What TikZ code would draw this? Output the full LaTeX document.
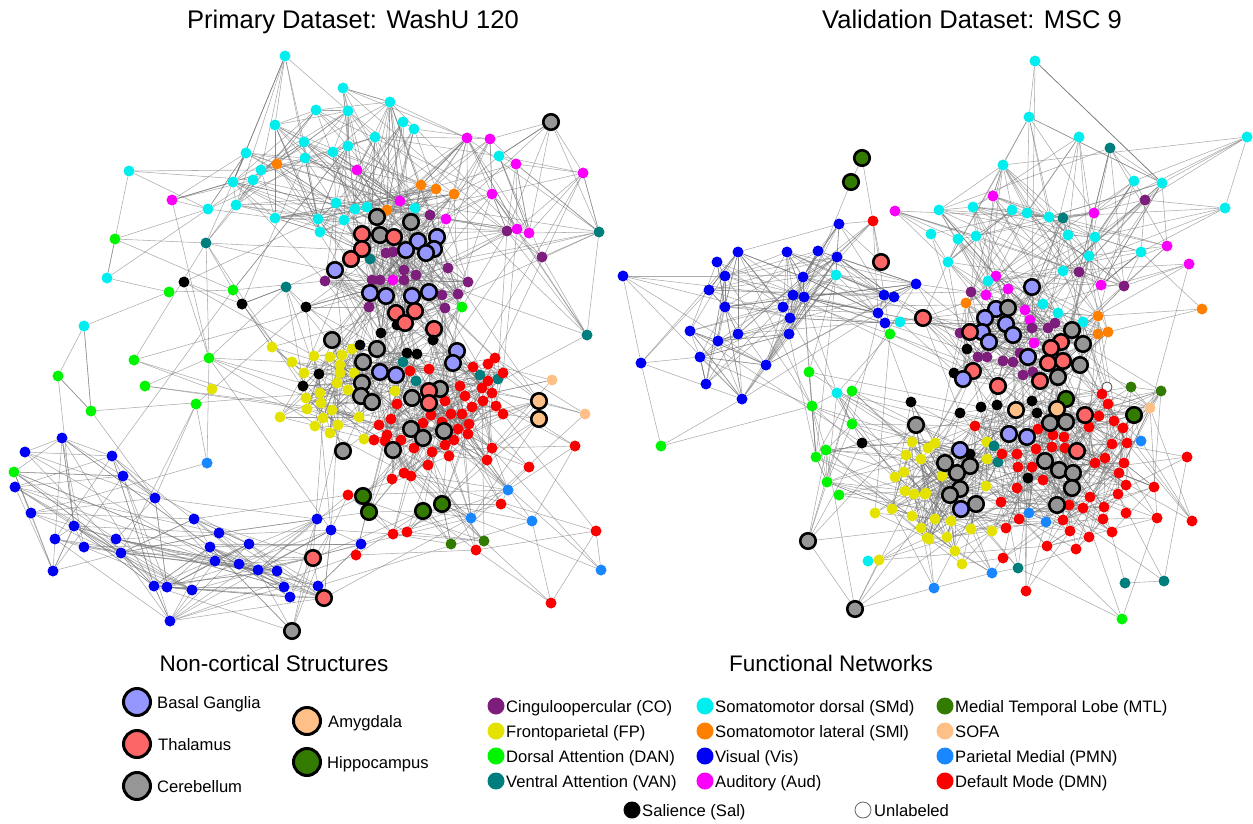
\documentclass[tikz,border=0pt]{standalone}
\usepackage{fontspec}
\setmainfont{Liberation Sans}
\pgfdeclarelayer{edges}
\pgfsetlayers{edges,main}
\definecolor{cCO}{RGB}{125,30,125}
\definecolor{cFP}{RGB}{228,226,0}
\definecolor{cDAN}{RGB}{0,245,0}
\definecolor{cVAN}{RGB}{0,125,125}
\definecolor{cSMd}{RGB}{0,238,238}
\definecolor{cSMl}{RGB}{255,128,0}
\definecolor{cVis}{RGB}{0,0,245}
\definecolor{cAud}{RGB}{250,0,250}
\definecolor{cMTL}{RGB}{50,122,0}
\definecolor{cSOFA}{RGB}{255,192,135}
\definecolor{cPMN}{RGB}{25,135,255}
\definecolor{cDMN}{RGB}{250,0,0}
\definecolor{cBG}{RGB}{150,150,255}
\definecolor{cTha}{RGB}{252,102,102}
\definecolor{cCer}{RGB}{150,150,150}
\definecolor{cAmy}{RGB}{255,192,135}
\definecolor{cHip}{RGB}{50,122,0}
\tikzset{
  ndot/.style={circle,inner sep=0pt,minimum size=11pt,draw=none},
  nbig/.style={circle,inner sep=0pt,minimum size=15.5pt,draw=black,line width=2.6pt},
  nco/.style={ndot,fill=cCO}, nfp/.style={ndot,fill=cFP}, ndan/.style={ndot,fill=cDAN},
  nvan/.style={ndot,fill=cVAN}, nsmd/.style={ndot,fill=cSMd}, nsml/.style={ndot,fill=cSMl},
  nvis/.style={ndot,fill=cVis}, naud/.style={ndot,fill=cAud}, nmtl/.style={ndot,fill=cMTL},
  nsofa/.style={ndot,fill=cSOFA}, npmn/.style={ndot,fill=cPMN}, ndmn/.style={ndot,fill=cDMN},
  nsal/.style={ndot,fill=black}, nunl/.style={ndot,fill=white,draw=black!70,line width=0.8pt,minimum size=10pt},
  nbg/.style={nbig,fill=cBG}, ntha/.style={nbig,fill=cTha}, ncer/.style={nbig,fill=cCer},
  namy/.style={nbig,fill=cAmy}, nhip/.style={nbig,fill=cHip},
  lnk/.style={draw=black!55,line width=0.55pt,opacity=0.6},
  lgbig/.style={circle,inner sep=0pt,minimum size=27pt,draw=black,line width=3pt},
  lgdot/.style={circle,inner sep=0pt,minimum size=17pt,draw=none},
  lgtxt/.style={anchor=base west,font=\fontsize{16.6}{20}\selectfont,inner sep=0pt},
  ttl/.style={anchor=base,font=\fontsize{25.5}{28}\selectfont,inner sep=0pt},
  hdr/.style={anchor=base,font=\fontsize{22.5}{26}\selectfont,inner sep=0pt}
}
\newcommand\mkgrp[2]{%
  \foreach \s/\x/\y [count=\i] in {#2}{%
    \node[\s] (#1\i) at (\x,\y) {};%
    \expandafter\xdef\csname X#1\i\endcsname{\x}%
    \expandafter\xdef\csname Y#1\i\endcsname{\y}%
    \xdef\lastn{\i}}%
  \expandafter\xdef\csname num#1\endcsname{\lastn}}
% group1, group2, attempts, range (longer links are rarer)
\newcommand\edg[4]{%
  \def\gA{#1}\def\gB{#2}%
  \foreach \k in {1,...,#3}{%
    \pgfmathtruncatemacro\ea{random(1,\csname num#1\endcsname)}%
    \pgfmathtruncatemacro\eb{random(1,\csname num#2\endcsname)}%
    \pgfmathsetmacro\dd{veclen(\csname X#1\ea\endcsname-\csname X#2\eb\endcsname,\csname Y#1\ea\endcsname-\csname Y#2\eb\endcsname)}%
    \pgfmathsetmacro\thr{#4*rnd}%
    \ifdim\dd pt<\thr pt\relax
      \ifdim\dd pt>1pt\relax\draw[lnk] (#1\ea) -- (#2\eb);\fi
    \fi}}
\begin{document}
\begin{tikzpicture}[x=1pt,y=-1pt]
\useasboundingbox (0,0) rectangle (1253,824);
\pgfmathsetseed{1234}
% ---------------- LEFT PANEL ----------------
\mkgrp{D}{ndan/115/239, nvan/206/243, nsmd/107/278, nsal/184/282, ndan/169/292, ndan/233/290, nvan/286/287, nsal/242/304, nsmd/84/326, ndan/134/360, ndan/209/358, ndan/58/376, ndan/145/386, ndan/196/404, ndan/91/411, npmn/207/463}
\mkgrp{A}{nsmd/285/56, nsmd/343/88, nsmd/316/110, nsmd/348/111, nsmd/390/102, nsmd/403/122, nsmd/414/129, nsmd/375/137, nsmd/275/125, nsmd/304/142, nsmd/333/152, nsmd/348/146, nsmd/305/158, nsmd/246/153, nsml/277/164, nsmd/261/170, nsmd/253/180, nsmd/233/182, nsmd/129/171, naud/172/200, nsmd/208/209, nsmd/236/205, nsmd/275/218, nsmd/318/219, nsmd/320/232, naud/357/170, nsmd/336/203, nsmd/355/209, nsmd/367/207, nsmd/344/220, nsml/421/185, nsml/436/189, nsml/454/194, nsml/387/210, naud/400/201, nsmd/415/208}
\mkgrp{B}{naud/467/138, naud/490/139, nsmd/499/156, naud/516/164, naud/583/173, naud/492/194, naud/446/219, nco/507/231, naud/517/229, naud/529/233, nco/542/257, nvan/599/232, nvan/587/335, ncer/551/122}
\mkgrp{G}{nvis/62/438, nvis/25/452, nvis/112/456, nvis/123/476, ndan/14/472, nvis/15/487, nvis/155/498, nvis/31/513, nvis/194/519, nvis/74/526, nvis/55/539, nvis/116/539, nvis/84/547, nvis/121/553, nvis/219/533, nvis/210/547, nvis/249/544, nvis/215/561, nvis/239/564, nvis/258/570, nvis/277/571, nvis/53/571, nvis/317/519, nvis/154/586, nvis/167/587, nvis/192/590, nvis/284/587, nvis/290/597, nvis/318/586, nvis/170/621, nvis/331/530, nvis/361/544, ntha/313/558, ntha/324/598, ncer/292/631}
\mkgrp{H}{ndmn/348/495, ndmn/356/555, ndmn/393/534, ndmn/407/532, nmtl/451/544, nmtl/484/541, ndmn/476/550, npmn/508/490, ndmn/501/504, npmn/471/518, npmn/532/521, ndmn/596/531, npmn/601/570, ndmn/551/603, nhip/363/496, nhip/369/512, nhip/423/511, nhip/442/504}
\mkgrp{C}{nco/430/215, nco/386/253, nco/393/252, nvan/370/259, nco/325/281, nco/404/270, nco/416/275, nco/404/280, nco/372/280, nco/380/280, naud/393/280, nco/448/268, nco/468/282, nco/442/295, nco/458/294, nco/445/308, nco/369/307, ndan/462/307, nsal/381/333, nsal/397/325, nsal/306/307, ncer/377/217, ncer/411/222, ncer/380/235, ntha/362/234, ntha/394/237, ntha/362/249, ntha/351/259, nbg/418/241, nbg/437/237, nbg/434/249, nbg/426/253, nbg/406/250, nbg/335/270, nbg/370/293, nbg/386/296, nbg/412/296, nbg/429/292, ntha/396/313, ntha/415/311, ntha/405/323, ntha/434/329}
\mkgrp{E}{nfp/272/347, nfp/292/362, nfp/314/356, nfp/330/357, nfp/342/355, nfp/352/349, nfp/340/365, nfp/340/373, nfp/354/373, nfp/304/373, nsal/319/374, nsal/303/386, nfp/337/383, nfp/348/390, nfp/320/393, nfp/306/398, nfp/321/403, nfp/307/409, nfp/332/410, nfp/323/418, nfp/338/425, nfp/315/426, nfp/330/433, nfp/359/417, nfp/280/417, nfp/212/389, nfp/364/439, nfp/395/391, nsal/360/345, ncer/332/340, ncer/377/349, ncer/363/362, nbg/380/372, nbg/396/375, ncer/362/383, ncer/361/396, ncer/372/402, ncer/343/451}
\mkgrp{F}{nsal/407/353, nsal/417/354, nsal/433/340, nvan/403/362, nvan/416/381, ndmn/410/371, ndmn/429/369, ndmn/397/404, ndmn/445/401, ndmn/460/386, ndmn/465/396, ndmn/472/407, ndmn/483/401, ndmn/482/388, ndmn/488/381, ndmn/492/393, ndmn/496/406, ndmn/503/414, nvan/480/375, nvan/498/379, ndmn/503/373, ndmn/488/364, ndmn/473/367, ndmn/495/358, ndmn/391/419, ndmn/379/425, ndmn/431/415, ndmn/442/422, ndmn/451/414, ndmn/462/414, ndmn/469/424, ndmn/458/429, ndmn/468/434, ndmn/454/440, ndmn/445/445, ndmn/449/456, ndmn/432/452, ndmn/414/448, ndmn/401/440, ndmn/387/435, ndmn/385/441, ndmn/374/440, ndmn/423/423, ndmn/428/465, ndmn/392/479, ndmn/404/473, ndmn/411/476, ndmn/492/448, ndmn/487/460, ndmn/529/467, ndmn/575/446, nsofa/552/380, nsofa/585/414, nbg/457/351, nbg/453/363, ncer/440/389, ntha/429/391, ntha/429/403, ncer/412/398, ncer/411/429, ncer/423/438, ncer/444/431, ncer/393/450, namy/539/401, namy/539/419}
% ---------------- RIGHT PANEL ----------------
\mkgrp{RD}{ndan/890/334, ndan/809/372, nsmd/837/393, ndan/852/391, ndan/812/406, ndan/852/424, ndan/826/450, ndan/816/457, ndan/827/482, ndan/839/495, nsal/862/443, nsal/911/402, nsmd/868/561, ndmn/873/221, ncer/808/541, ncer/855/609, nhip/862/158, nhip/851/182}
\mkgrp{RC}{nvis/839/224, nvis/623/276, nvis/717/262, nvis/738/252, nvis/787/252, nvis/818/251, nvis/837/257, nsmd/836/275, nvis/725/276, nvis/803/277, nvis/709/290, nvis/793/295, nvis/804/297, nvis/884/295, nvis/894/297, nvis/916/284, nvis/725/307, nvis/783/307, nvis/790/318, nvis/878/313, nvis/885/323, nvis/690/331, nvis/738/334, nvis/789/334, nvis/718/341, nvis/641/363, nvis/700/357, nvis/766/365, nvis/706/384, nvis/742/399, ndan/661/446}
\mkgrp{RA}{nsmd/1035/61, nsmd/1029/117, nsmd/1079/137, nvan/1110/148, nsmd/1247/137, nsmd/1003/165, nsmd/1134/181, nsmd/1162/183, nco/1145/200, naud/993/196, nsmd/939/210, nsmd/973/207, nsmd/1012/210, nsmd/1027/213, nsmd/1049/217, nvan/1063/218, naud/1094/213, nsmd/1225/208, nsmd/931/234, nsmd/958/239, nsmd/976/236, nsmd/1068/235, nsmd/1095/237, nsmd/1141/252, naud/1167/246, naud/1189/264, nsmd/1089/256, nsmd/948/262, nsmd/1063/271, nco/1079/272, naud/996/276, nsmd/988/281, naud/1101/285, nco/1124/286, naud/895/211}
\mkgrp{RB}{nco/971/292, naud/986/295, naud/1008/289, nsml/966/303, nsmd/1043/304, naud/1025/310, naud/1030/320, nsmd/1058/313, nsml/1202/309, nsml/1098/316, nsmd/1083/322, nsml/1098/334, nsml/1108/332, nco/960/333, nco/1032/328, nco/1048/328, nco/1055/323, naud/1034/343, nsal/967/349, nco/978/357, nco/987/357, nco/1003/361, nco/1013/362, nco/1020/353, nco/1023/375, nco/1033/372, nsal/954/373, nsmd/900/322, nbg/1032/287, nbg/996/309, ncer/1008/308, nbg/985/318, nbg/1006/324, nbg/1013/335, nbg/982/332, ntha/970/332, ntha/923/318, ncer/1072/330, nbg/989/342, ntha/1061/342, ncer/1083/344, nbg/1028/357, ntha/1051/348, ntha/1063/361, ntha/1048/363, ncer/1080/365, ntha/973/371, nbg/963/379, ntha/998/386, ntha/1040/381, ncer/1058/377, ntha/881/262}
\mkgrp{RE}{nfp/912/442, nfp/906/455, nfp/921/459, nfp/895/477, nfp/904/472, nfp/905/491, nfp/914/494, nfp/925/494, nfp/875/513, nfp/892/509, nfp/912/516, nfp/921/528, nfp/927/538, nfp/879/560, nfp/935/443, nfp/928/448, nfp/987/442, nfp/987/459, nfp/986/486, nfp/942/476, nfp/926/493, nfp/935/519, nfp/951/521, nfp/971/529, nfp/992/531, nfp/929/539, nfp/947/537, nfp/955/551, nfp/962/564, nvan/994/446, nvan/998/462, nsal/970/454, npmn/934/588, npmn/992/573, ncer/916/425, nbg/960/450, ncer/945/463, ncer/970/466, ncer/957/473, ncer/960/489, ncer/950/495, ncer/976/504, nbg/961/509}
\mkgrp{RF}{nsal/960/413, nsal/981/407, nsal/997/405, nsal/1032/401, nsal/1037/413, nunl/1107/387, nmtl/1131/387, nmtl/1161/391, ndmn/1102/394, ndmn/1108/404, nsofa/1150/408, ndmn/1099/416, ndmn/1114/421, ndmn/1123/428, ndmn/1089/427, ndmn/975/426, ndmn/1038/429, ndmn/1053/435, ndmn/1064/437, ndmn/1002/454, ndmn/1017/454, ndmn/1018/467, ndmn/1036/449, ndmn/1032/467, ndmn/1052/447, ndmn/1065/448, nsal/1028/478, ndmn/1043/480, ndmn/1017/488, ndmn/1112/444, ndmn/1127/443, npmn/1141/441, ndmn/1095/463, ndmn/1105/458, ndmn/1124/463, ndmn/1119/473, ndmn/1126/485, ndmn/1118/494, ndmn/1187/457, ndmn/1154/487, ndmn/1157/518, ndmn/1192/521, ndmn/1090/497, ndmn/1104/507, ndmn/1126/513, ndmn/1083/508, ndmn/1069/505, ndmn/1001/502, ndmn/1063/520, ndmn/1019/519, ndmn/1006/528, ndmn/1103/519, ndmn/1070/531, ndmn/1089/537, ndmn/1112/532, ndmn/1047/546, ndmn/1076/549, ndmn/1003/558, npmn/1029/513, npmn/1046/522, nvan/1018/568, nvan/1125/583, nvan/1164/581, ndmn/1026/591, ndan/1122/619, nhip/1066/399, nhip/1134/415, ntha/1085/415, namy/1057/409, namy/1016/410, ncer/1050/423, ncer/1066/422, nbg/1009/434, nbg/1027/437, ntha/1077/451, ncer/1045/461, ncer/1059/470, ncer/1073/473, ncer/1072/488, ncer/1057/505}
% ---------------- EDGES ----------------
\begin{pgfonlayer}{edges}
% links seen in the reference for outlying nodes
\draw[lnk] (RD17) -- (RD18);
\draw[lnk] (RD17) -- (RD14);
\draw[lnk] (RD14) -- (RB52);
\draw[lnk] (RC31) -- (RC30);
\draw[lnk] (RB9) -- (RB10);
\draw[lnk] (RB9) -- (RB13);
\draw[lnk] (RF11) -- (RF8);
\draw[lnk] (RF11) -- (RF7);
\draw[lnk] (RA5) -- (RA8);
\edg{A}{A}{320}{230}\edg{B}{B}{80}{200}\edg{A}{B}{130}{260}\edg{C}{C}{320}{150}
\edg{A}{C}{170}{250}\edg{B}{C}{90}{250}\edg{D}{D}{70}{200}\edg{D}{A}{70}{250}
\edg{D}{E}{60}{250}\edg{D}{C}{45}{300}\edg{E}{E}{260}{120}\edg{F}{F}{480}{150}
\edg{E}{F}{170}{200}\edg{C}{F}{130}{250}\edg{C}{E}{110}{200}\edg{G}{G}{380}{260}
\edg{G}{D}{60}{250}\edg{G}{H}{50}{300}\edg{G}{E}{25}{300}\edg{H}{H}{60}{200}
\edg{H}{F}{130}{250}\edg{B}{F}{25}{300}\edg{D}{F}{20}{300}
\edg{RA}{RA}{260}{250}\edg{RB}{RB}{420}{130}\edg{RA}{RB}{190}{250}\edg{RC}{RC}{420}{210}
\edg{RC}{RD}{90}{250}\edg{RC}{RB}{90}{300}\edg{RD}{RD}{70}{200}\edg{RD}{RE}{90}{250}
\edg{RE}{RE}{360}{130}\edg{RF}{RF}{640}{180}\edg{RE}{RF}{260}{200}\edg{RB}{RF}{160}{250}
\edg{RB}{RE}{70}{250}\edg{RD}{RF}{35}{350}\edg{RA}{RD}{25}{300}\edg{RA}{RF}{35}{350}
\end{pgfonlayer}
% ---------------- TITLES ----------------
\node[ttl] (t1) at (353,29) {Primary Dataset: WashU 120};
\node[ttl] (t2) at (972,29) {Validation Dataset: MSC 9};
% ---------------- LEGEND ----------------
\node[hdr] (h1) at (274,671) {Non-cortical Structures};
\node[hdr] (h2) at (831,671) {Functional Networks};
\node[lgbig,fill=cBG] (k1) at (137,702) {};  \node[lgtxt] (k1t) at (157,708) {Basal Ganglia};
\node[lgbig,fill=cTha] (k2) at (137,744) {}; \node[lgtxt] (k2t) at (158,750) {Thalamus};
\node[lgbig,fill=cCer] (k3) at (137,786) {}; \node[lgtxt] (k3t) at (157,792) {Cerebellum};
\node[lgbig,fill=cAmy] (k4) at (307,721) {}; \node[lgtxt] (k4t) at (328,727) {Amygdala};
\node[lgbig,fill=cHip] (k5) at (307,762) {}; \node[lgtxt] (k5t) at (327,768) {Hippocampus};
\foreach \c/\t [count=\i] in {cCO/Cinguloopercular (CO), cFP/Frontoparietal (FP), cDAN/Dorsal Attention (DAN), cVAN/Ventral Attention (VAN)}{
  \pgfmathsetmacro\yy{706+25*(\i-1)}
  \node[lgdot,fill=\c] (f1\i) at (496,\yy) {};
  \node[lgtxt] (f1t\i) at (506,\yy+6) {\t};}
\foreach \c/\t [count=\i] in {cSMd/Somatomotor dorsal (SMd), cSMl/Somatomotor lateral (SMl), cVis/Visual (Vis), cAud/Auditory (Aud)}{
  \pgfmathsetmacro\yy{706+25*(\i-1)}
  \node[lgdot,fill=\c] (f2\i) at (705,\yy) {};
  \node[lgtxt] (f2t\i) at (715,\yy+6) {\t};}
\foreach \c/\t [count=\i] in {cMTL/Medial Temporal Lobe (MTL), cSOFA/SOFA, cPMN/Parietal Medial (PMN), cDMN/Default Mode (DMN)}{
  \pgfmathsetmacro\yy{706+25*(\i-1)}
  \node[lgdot,fill=\c] (f3\i) at (945,\yy) {};
  \node[lgtxt] (f3t\i) at (955,\yy+6) {\t};}
\node[lgdot,fill=black] (f41) at (632,810) {}; \node[lgtxt] (f41t) at (642,816) {Salience (Sal)};
\node[lgdot,fill=white,draw=black!60,line width=0.8pt,minimum size=16pt] (f42) at (863,810) {}; \node[lgtxt] (f42t) at (874,816) {Unlabeled};
\end{tikzpicture}
\end{document}
